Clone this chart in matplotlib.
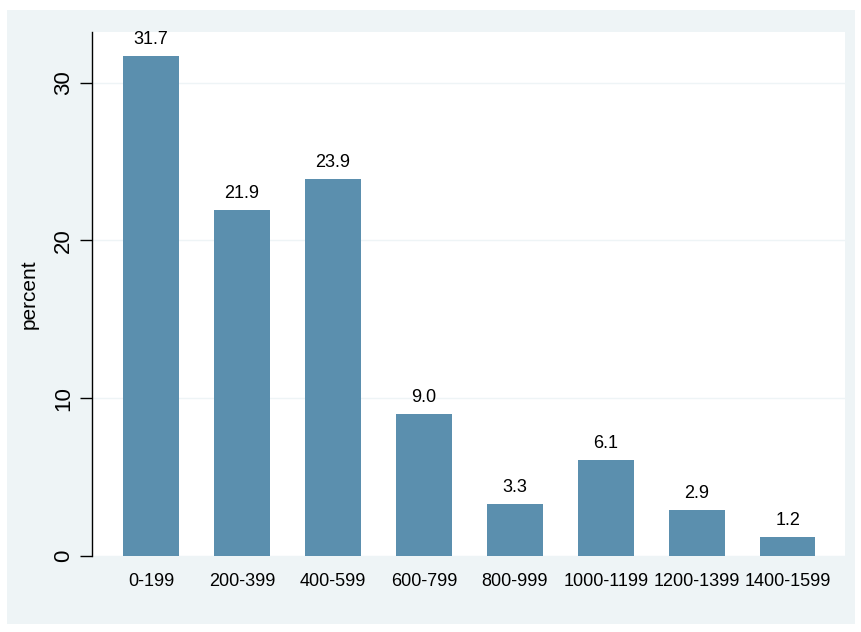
import matplotlib.pyplot as plt
from matplotlib.patches import Rectangle

categories = ["0-199", "200-399", "400-599", "600-799", "800-999",
              "1000-1199", "1200-1399", "1400-1599"]
percent = [31.7, 21.9, 23.9, 9.0, 3.3, 6.1, 2.9, 1.2]

plt.rcParams["font.family"] = ["Liberation Sans", "DejaVu Sans"]

fig = plt.figure(figsize=(8.62, 6.32), dpi=100)
fig.patch.set_facecolor("white")
bg = Rectangle((7 / 862, 8 / 632), 848 / 862, 614 / 632,
               transform=fig.transFigure, facecolor="#eef4f6",
               edgecolor="none", zorder=-10)
fig.add_artist(bg)
ax = fig.add_axes([92 / 862, 1 - 556 / 632, 753 / 862, 524 / 632])
ax.set_zorder(1)
ax.set_facecolor("white")

x = range(len(categories))
ax.bar(x, percent, width=0.61, color="#5b8fae", zorder=2)
for i, v in zip(x, percent):
    ax.text(i, v + 0.5, f"{v:.1f}", ha="center", va="bottom", fontsize=13)

ax.set_xlim(-0.65, 7.63)
ax.set_ylim(0, 33.2)
ax.set_yticks([0, 10, 20, 30])
ax.set_yticklabels(["0", "10", "20", "30"], rotation=90, va="center", fontsize=16)
ax.set_xticks(list(x))
ax.set_xticklabels(categories, fontsize=13)
ax.tick_params(axis="x", length=0, pad=12)
ax.tick_params(axis="y", length=9, width=1, pad=4)
ax.grid(axis="y", color="#eef4f6", linewidth=1, zorder=0)
ax.set_axisbelow(True)
ax.set_ylabel("percent", fontsize=15, labelpad=10)
for s in ["top", "right", "bottom"]:
    ax.spines[s].set_visible(False)
ax.spines["left"].set_linewidth(1)

fig.savefig("out.png", dpi=100)
